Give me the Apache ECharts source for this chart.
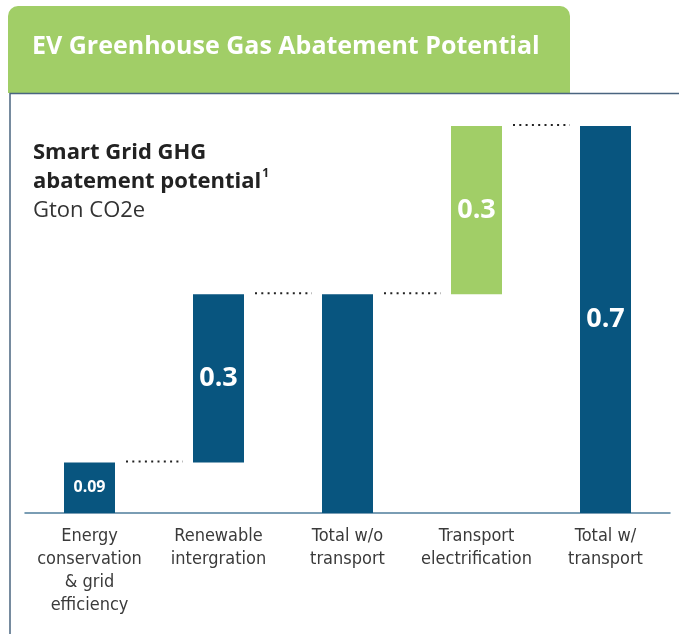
<!DOCTYPE html>
<html>
<head>
<meta charset="utf-8">
<script src="https://cdn.jsdelivr.net/npm/echarts@6/dist/echarts.min.js"></script>
<style>
  html, body { margin: 0; padding: 0; background: #fff; }
  #main { width: 679px; height: 634px; }
</style>
</head>
<body>
<div id="main"></div>
<script>
// waterfall data
const categories = ['Energy\nconservation\n& grid\nefficiency', 'Renewable\nintergration', 'Total w/o\ntransport', 'Transport\nelectrification', 'Total w/\ntransport'];
const baseValues = [0, 0.09, 0, 0.39, 0];
const barValues = [0.09, 0.3, 0.39, 0.3, 0.69];
const barLabels = ['0.09', '0.3', '', '0.3', '0.7'];

const blue = '#08557f';
const green = '#a1ce67';
const barColors = [blue, blue, blue, green, blue];

// top of each bar, joined to the next one by a dotted line
const connectors = barValues.slice(0, -1).map((v, i) => [i, baseValues[i] + v]);

const chartDom = document.getElementById('main');
const myChart = echarts.init(chartDom);

const option = {
    animation: false,
    grid: { left: 25, right: 9, top: 126, bottom: 121 },
    xAxis: {
        type: 'category',
        data: categories,
        axisLine: { lineStyle: { color: '#4f7d9c', width: 1.5 } },
        axisTick: { show: false },
        axisLabel: {
            interval: 0,
            margin: 12,
            color: '#3a3a3a',
            fontSize: 18,
            lineHeight: 23,
            fontFamily: 'Liberation Sans Narrow, DejaVu Sans Condensed, sans-serif'
        }
    },
    yAxis: {
        type: 'value',
        min: 0,
        max: 0.69,
        show: false
    },
    graphic: [
        {
            type: 'rect',
            shape: { x: 8, y: 6, width: 562, height: 87, r: [10, 10, 0, 0] },
            style: { fill: green }
        },
        {
            type: 'text',
            left: 32,
            top: 34,
            style: {
                text: 'EV Greenhouse Gas Abatement Potential',
                fill: '#fff',
                font: 'bold 25px "Open Sans", sans-serif'
            }
        },
        {
            type: 'polyline',
            shape: { points: [[10, 634], [10, 93.5], [679, 93.5]] },
            style: { stroke: '#4a6580', lineWidth: 1.5, fill: null }
        },
        {
            type: 'text',
            left: 33,
            top: 142,
            style: {
                text: '{b|Smart Grid GHG}\n{b|abatement potential}{sup|1}\n{r|Gton CO2e}',
                rich: {
                    b: { font: 'bold 22px "Open Sans", sans-serif', fill: '#222', lineHeight: 29 },
                    sup: { font: 'bold 12px "Open Sans", sans-serif', fill: '#222', verticalAlign: 'top', lineHeight: 29, padding: [0, 0, 10, 1] },
                    r: { font: '22px "Open Sans", sans-serif', fill: '#333', lineHeight: 29 }
                }
            }
        }
    ],
    series: [
        {
            type: 'bar',
            stack: 'fall',
            data: baseValues,
            barWidth: 51,
            itemStyle: { color: 'transparent' },
            silent: true
        },
        {
            type: 'bar',
            stack: 'fall',
            data: barValues,
            barWidth: 51,
            itemStyle: { color: p => barColors[p.dataIndex] },
            label: {
                show: true,
                position: 'inside',
                color: '#fff',
                fontWeight: 'bold',
                fontFamily: 'Open Sans, sans-serif',
                fontSize: 27,
                formatter: p => barLabels[p.dataIndex]
            },
            labelLayout: p => (p.dataIndex === 0 ? { fontSize: 16 } : {})
        },
        {
            type: 'custom',
            data: connectors,
            renderItem: (params, api) => {
                const p = api.coord([api.value(0), api.value(1)]);
                const band = api.size([1, 0])[0];
                const x1 = p[0] + 25.5 + 11;
                const x2 = p[0] + band - 25.5 - 10;
                return {
                    type: 'line',
                    shape: { x1: x1, y1: p[1] - 1, x2: x2, y2: p[1] - 1 },
                    style: { stroke: '#222', lineWidth: 2, lineDash: [2, 4.3] }
                };
            }
        }
    ]
};

option && myChart.setOption(option);
</script>
</body>
</html>
